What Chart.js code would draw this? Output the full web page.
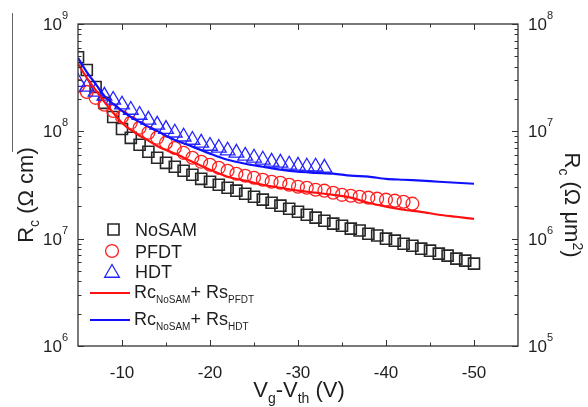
<!DOCTYPE html>
<html>
<head>
<meta charset="utf-8">
<script src="https://cdn.jsdelivr.net/npm/chart.js@4"></script>
<style>
  html, body { margin: 0; padding: 0; background: #fff; }
</style>
</head>
<body>
<canvas id="myChart" width="588" height="407"></canvas>
<script>
// gate voltage overdrive (V) for each series
const vNoSam = [-5, -6, -7, -8, -9, -10, -11, -12, -13, -14, -15, -16, -17, -18, -19, -20, -21, -22, -23, -24, -25, -26, -27, -28, -29, -30, -31, -32, -33, -34, -35, -36, -37, -38, -39, -40, -41, -42, -43, -44, -45, -46, -47, -48, -49, -50];
const rcNoSam = [4.9e8, 3.73e8, 2.59e8, 1.84e8, 1.36e8, 1.05e8, 8.7e7, 7.5e7, 6.45e7, 5.67e7, 5.09e7, 4.68e7, 4.29e7, 3.94e7, 3.61e7, 3.39e7, 3.18e7, 2.98e7, 2.8e7, 2.62e7, 2.46e7, 2.31e7, 2.16e7, 2.03e7, 1.9e7, 1.78e7, 1.67e7, 1.57e7, 1.47e7, 1.38e7, 1.32e7, 1.24e7, 1.19e7, 1.11e7, 1.07e7, 1.0e7, 9.58e6, 8.97e6, 8.6e6, 8.07e6, 7.73e6, 7.25e6, 6.95e6, 6.52e6, 6.24e6, 5.85e6];

const vPfdt = [-5, -6, -7, -8, -9, -10, -11, -12, -13, -14, -15, -16, -17, -18, -19, -20, -21, -22, -23, -24, -25, -26, -27, -28, -29, -30, -31, -32, -33, -34, -35, -36, -37, -38, -39, -40, -41, -42, -43];
const rcPfdt = [2.65e8, 2.33e8, 2.05e8, 1.77e8, 1.55e8, 1.36e8, 1.2e8, 1.08e8, 9.7e7, 8.7e7, 7.8e7, 7.0e7, 6.3e7, 5.67e7, 5.2e7, 4.88e7, 4.57e7, 4.29e7, 4.03e7, 3.86e7, 3.69e7, 3.54e7, 3.39e7, 3.32e7, 3.18e7, 3.05e7, 2.98e7, 2.86e7, 2.8e7, 2.68e7, 2.56e7, 2.51e7, 2.46e7, 2.41e7, 2.36e7, 2.31e7, 2.26e7, 2.21e7, 2.12e7];

const vHdt = [-5, -6, -7, -8, -9, -10, -11, -12, -13, -14, -15, -16, -17, -18, -19, -20, -21, -22, -23, -24, -25, -26, -27, -28, -29, -30, -31, -32, -33];
const rcHdt = [2.88e8, 2.59e8, 2.33e8, 2.14e8, 1.96e8, 1.77e8, 1.58e8, 1.42e8, 1.28e8, 1.15e8, 1.05e8, 9.7e7, 8.9e7, 8.3e7, 7.8e7, 7.3e7, 7.0e7, 6.6e7, 6.3e7, 5.9e7, 5.67e7, 5.43e7, 5.2e7, 5.09e7, 4.88e7, 4.77e7, 4.68e7, 4.68e7, 4.57e7];

// model curves Rc(NoSAM) + Rs
const vFit = [-5, -6, -7, -8, -9, -10, -11, -12, -13, -14, -15, -16, -18, -20, -22, -24, -26, -28, -30, -32, -34, -36, -38, -40, -42, -44, -46, -48, -50];
const fitPfdt = [4.25e8, 3.15e8, 2.43e8, 1.88e8, 1.49e8, 1.2e8, 1.03e8, 9.1e7, 8.2e7, 7.3e7, 6.7e7, 6.2e7, 5.2e7, 4.39e7, 3.78e7, 3.47e7, 3.18e7, 2.98e7, 2.8e7, 2.68e7, 2.56e7, 2.41e7, 2.16e7, 1.99e7, 1.86e7, 1.78e7, 1.67e7, 1.6e7, 1.53e7];
const fitHdt = [4.83e8, 3.57e8, 2.77e8, 2.14e8, 1.8e8, 1.55e8, 1.36e8, 1.22e8, 1.1e8, 1.01e8, 9.1e7, 8.3e7, 7.2e7, 6.2e7, 5.43e7, 4.99e7, 4.68e7, 4.39e7, 4.2e7, 4.11e7, 4.03e7, 3.86e7, 3.78e7, 3.61e7, 3.54e7, 3.47e7, 3.39e7, 3.32e7, 3.25e7];

// axis ticks
const xTicks = [-10, -20, -30, -40, -50];
const xMinor = [-15, -25, -35, -45];
const yLeftTicks = [1e6, 1e7, 1e8, 1e9];
const yRightTicks = [1e5, 1e6, 1e7, 1e8];

const family = '"Liberation Sans", Arial, sans-serif';
const ink = '#1e1e1e';
const pts = (xs, ys) => xs.map((x, i) => ({ x: x, y: ys[i] }));

function richText(ctx, parts, x, y, rot, align) {
  ctx.save();
  ctx.translate(x, y);
  ctx.rotate(rot);
  ctx.textBaseline = 'alphabetic';
  ctx.textAlign = 'left';
  ctx.fillStyle = ink;
  let w = 0;
  parts.forEach(p => { ctx.font = p[1] + 'px ' + family; w += ctx.measureText(p[0]).width; });
  let cx = align === 'left' ? 0 : align === 'right' ? -w : -w / 2;
  parts.forEach(p => {
    ctx.font = p[1] + 'px ' + family;
    ctx.fillText(p[0], cx, p[2] || 0);
    cx += ctx.measureText(p[0]).width;
  });
  ctx.restore();
}

function marker(ctx, type, x, y, r, color, lw) {
  ctx.save();
  ctx.strokeStyle = color;
  ctx.lineWidth = lw;
  ctx.beginPath();
  if (type === 'rect') {
    const s = r * Math.SQRT1_2;
    ctx.rect(x - s, y - s, 2 * s, 2 * s);
  } else if (type === 'circle') {
    ctx.arc(x, y, r, 0, Math.PI * 2);
  } else {
    ctx.moveTo(x, y - r);
    ctx.lineTo(x + r * Math.sin(Math.PI * 2 / 3), y + r / 2);
    ctx.lineTo(x - r * Math.sin(Math.PI * 2 / 3), y + r / 2);
    ctx.closePath();
  }
  ctx.stroke();
  ctx.restore();
}

const decor = {
  id: 'decor',
  afterDraw(chart) {
    const { ctx, chartArea: a, scales } = chart;
    ctx.save();
    // frame
    ctx.strokeStyle = '#333';
    ctx.lineWidth = 1.3;
    ctx.strokeRect(a.left, a.top, a.right - a.left, a.bottom - a.top);
    ctx.lineWidth = 1;
    ctx.beginPath();
    // x ticks, bottom and top, pointing inward
    xTicks.concat(xMinor).forEach(v => {
      const px = Math.round(scales.x.getPixelForValue(v)) + 0.5;
      const len = xTicks.includes(v) ? 6 : 3.5;
      ctx.moveTo(px, a.bottom); ctx.lineTo(px, a.bottom - len);
      ctx.moveTo(px, a.top); ctx.lineTo(px, a.top + len);
    });
    // log ticks on both y axes
    [['y', 6, a.left, 1], ['y2', 5, a.right, -1]].forEach(([id, d0, edge, dir]) => {
      const sc = scales[id];
      for (let d = d0; d < d0 + 3; d++) {
        for (let m = 1; m <= 10; m++) {
          const py = Math.round(sc.getPixelForValue(m * Math.pow(10, d))) + 0.5;
          const len = (m === 1 || m === 10) ? 6 : 3.5;
          ctx.moveTo(edge, py); ctx.lineTo(edge + dir * len, py);
        }
      }
    });
    ctx.stroke();

    // stray rule at the top left of the original figure
    ctx.strokeStyle = '#666';
    ctx.beginPath();
    ctx.moveTo(12.5, 13); ctx.lineTo(12.5, 152);
    ctx.stroke();
    ctx.restore();

    // power-of-ten tick labels
    yLeftTicks.forEach(v => {
      const py = scales.y.getPixelForValue(v);
      richText(ctx, [['10', 17], [String(Math.round(Math.log10(v))), 11, -11]], 68, py + 6, 0, 'right');
    });
    yRightTicks.forEach(v => {
      const py = scales.y2.getPixelForValue(v);
      richText(ctx, [['10', 17], [String(Math.round(Math.log10(v))), 11, -11]], 528, py + 6, 0, 'left');
    });

    // axis titles
    richText(ctx, [['V', 22], ['g', 14, 6], ['-V', 22], ['th', 14, 6], [' (V)', 22]], 299, 397, 0);
    richText(ctx, [['R', 22], ['c', 14, 6], [' (\u03A9 cm)', 22]], 33, 195, -Math.PI / 2);
    richText(ctx, [['R', 22], ['c', 14, 6], [' (\u03A9 \u03BCm', 22], ['2', 14, -8], [')', 22]], 565, 205, Math.PI / 2);

    // legend
    const ds = chart.data.datasets;
    marker(ctx, 'rect', 113.5, 229.5, ds[0].pointRadius, ds[0].borderColor, 1.6);
    richText(ctx, [['NoSAM', 18]], 135, 236, 0, 'left');
    marker(ctx, 'circle', 112, 251, ds[1].pointRadius, ds[1].borderColor, 1.3);
    richText(ctx, [['PFDT', 18]], 135, 257.5, 0, 'left');
    marker(ctx, 'triangle', 112, 273, ds[2].pointRadius, ds[2].borderColor, 1.3);
    richText(ctx, [['HDT', 18]], 135, 277.5, 0, 'left');
    [[3, 293, 'PFDT'], [4, 320, 'HDT']].forEach(([i, y, sub]) => {
      ctx.save();
      ctx.strokeStyle = ds[i].borderColor;
      ctx.lineWidth = ds[i].borderWidth;
      ctx.beginPath(); ctx.moveTo(90, y); ctx.lineTo(130, y); ctx.stroke();
      ctx.restore();
      richText(ctx, [['Rc', 18], ['NoSAM', 10, 5], ['+ Rs', 18], [sub, 10, 5]], 134, y + 4.5, 0, 'left');
    });
  }
};

const tickFont = { family: family, size: 17 };

new Chart(document.getElementById('myChart'), {
  type: 'scatter',
  data: {
    datasets: [
      { label: 'NoSAM', data: pts(vNoSam, rcNoSam), pointStyle: 'rect', pointRadius: 7.8,
        borderColor: '#262626', backgroundColor: 'rgba(0,0,0,0)', borderWidth: 1.6, order: 3 },
      { label: 'PFDT', data: pts(vPfdt, rcPfdt), pointStyle: 'circle', pointRadius: 6.4,
        borderColor: '#ff2020', backgroundColor: 'rgba(0,0,0,0)', borderWidth: 1.3, order: 2 },
      { label: 'HDT', data: pts(vHdt, rcHdt), pointStyle: 'triangle', pointRadius: 8.5,
        borderColor: '#2424ff', backgroundColor: 'rgba(0,0,0,0)', borderWidth: 1.3, order: 1 },
      { label: 'RcNoSAM + RsPFDT', data: pts(vFit, fitPfdt), showLine: true, pointRadius: 0,
        borderColor: '#ff1010', borderWidth: 2.2, tension: 0.3, order: 0 },
      { label: 'RcNoSAM + RsHDT', data: pts(vFit, fitHdt), showLine: true, pointRadius: 0,
        borderColor: '#1010ff', borderWidth: 2.2, tension: 0.3, order: 0 }
    ]
  },
  options: {
    responsive: false,
    animation: false,
    devicePixelRatio: 1,
    layout: { padding: { left: 0, right: 0, top: 24, bottom: 0 } },
    plugins: { legend: { display: false }, tooltip: { enabled: false } },
    scales: {
      x: {
        type: 'linear', min: -55, max: -5, reverse: true,
        grid: { display: false }, border: { display: false },
        afterBuildTicks: s => { s.ticks = xTicks.map(v => ({ value: v })); },
        afterFit: s => { s.height = 61; },
        ticks: { font: tickFont, color: ink, padding: 9, autoSkip: false, maxRotation: 0, callback: v => String(v) }
      },
      y: {
        type: 'logarithmic', position: 'left', min: 1e6, max: 1e9,
        grid: { display: false }, border: { display: false },
        afterBuildTicks: s => { s.ticks = yLeftTicks.map(v => ({ value: v })); },
        afterFit: s => { s.width = 78; },
        ticks: { display: false }
      },
      y2: {
        type: 'logarithmic', position: 'right', min: 1e5, max: 1e8,
        grid: { display: false }, border: { display: false },
        afterBuildTicks: s => { s.ticks = yRightTicks.map(v => ({ value: v })); },
        afterFit: s => { s.width = 70; },
        ticks: { display: false }
      }
    }
  },
  plugins: [decor]
});
</script>
</body>
</html>
